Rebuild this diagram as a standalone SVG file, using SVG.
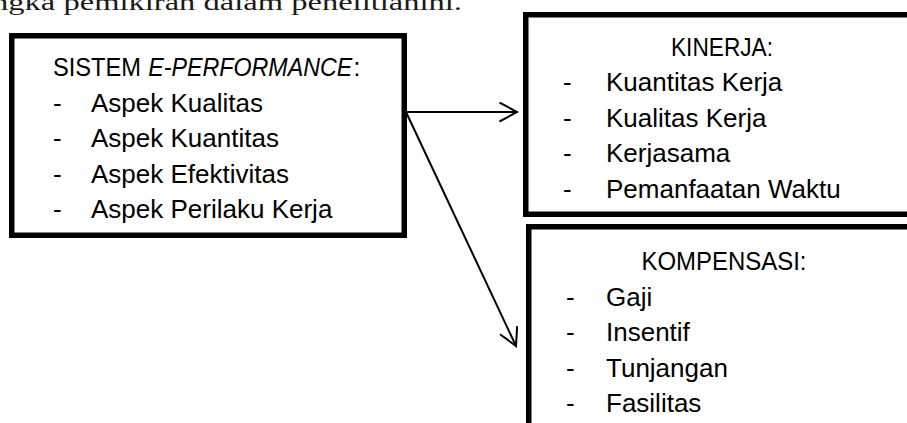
<svg xmlns="http://www.w3.org/2000/svg" width="907" height="423" viewBox="0 0 907 423">
<style>
.box{fill:#fff;stroke:#000;stroke-width:5.5}
.t{font-family:"Liberation Sans",Arial,sans-serif;font-size:26px;fill:#000}
.c{text-anchor:middle}
.ser{font-family:"Liberation Serif","Times New Roman",serif;font-size:23px;fill:#1a1a1a}
.con{stroke:#000;stroke-width:2;fill:none}
</style>
<defs>
<marker id="arr" markerUnits="userSpaceOnUse" markerWidth="24" markerHeight="24" refX="18" refY="10" orient="auto" viewBox="0 0 24 24">
<path d="M0.5,0.5 L18,10 L0.5,19.5" fill="none" stroke="#000" stroke-width="2"/>
</marker>
</defs>
<rect width="907" height="423" fill="#fff"/>
<text class="ser" x="-8" y="10" textLength="470" lengthAdjust="spacingAndGlyphs">ngka pemikiran dalam penelitianini.</text>
<g id="sistem">
<rect class="box" x="11.75" y="35.75" width="392.5" height="199.5"/>
<text class="t" x="53" y="76"><tspan textLength="88" lengthAdjust="spacingAndGlyphs">SISTEM</tspan> <tspan font-style="italic" textLength="204" lengthAdjust="spacingAndGlyphs">E-PERFORMANCE</tspan><tspan dx="1">:</tspan></text>
<text class="t" x="53" y="111.5">-</text><text class="t" x="91" y="111.5">Aspek Kualitas</text>
<text class="t" x="53" y="147">-</text><text class="t" x="91" y="147">Aspek Kuantitas</text>
<text class="t" x="53" y="182.5">-</text><text class="t" x="91" y="182.5">Aspek Efektivitas</text>
<text class="t" x="53" y="218">-</text><text class="t" x="91" y="218">Aspek Perilaku Kerja</text>
</g>
<g id="kinerja">
<rect class="box" x="525.75" y="14.75" width="400" height="199.5"/>
<text class="t c" x="722" y="56" textLength="102" lengthAdjust="spacingAndGlyphs">KINERJA:</text>
<text class="t" x="563" y="91">-</text><text class="t" x="606" y="91">Kuantitas Kerja</text>
<text class="t" x="563" y="126.5">-</text><text class="t" x="606" y="126.5">Kualitas Kerja</text>
<text class="t" x="563" y="162">-</text><text class="t" x="606" y="162">Kerjasama</text>
<text class="t" x="563" y="197.5">-</text><text class="t" x="606" y="197.5">Pemanfaatan Waktu</text>
</g>
<g id="kompensasi">
<rect class="box" x="528.75" y="226.75" width="400" height="220"/>
<text class="t c" x="724" y="270" textLength="165" lengthAdjust="spacingAndGlyphs">KOMPENSASI:</text>
<text class="t" x="566" y="305.5">-</text><text class="t" x="606" y="305.5">Gaji</text>
<text class="t" x="566" y="341">-</text><text class="t" x="606" y="341">Insentif</text>
<text class="t" x="566" y="376.5">-</text><text class="t" x="606" y="376.5">Tunjangan</text>
<text class="t" x="566" y="412">-</text><text class="t" x="606" y="412">Fasilitas</text>
</g>
<g id="connectors">
<line class="con" x1="407" y1="112" x2="517" y2="112" marker-end="url(#arr)"/>
<line class="con" x1="406" y1="112" x2="516" y2="346" marker-end="url(#arr)"/>
</g>
</svg>
